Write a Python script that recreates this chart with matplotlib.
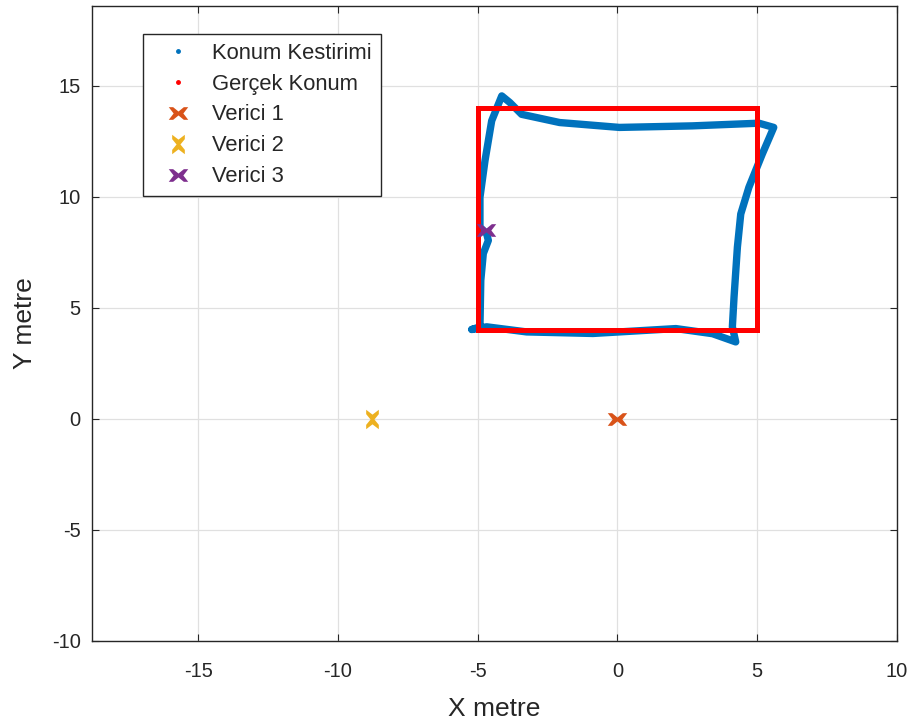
import matplotlib
matplotlib.use("Agg")
import matplotlib.pyplot as plt
from matplotlib.lines import Line2D
from matplotlib.path import Path

plt.rcParams['font.family'] = ['Liberation Sans', 'DejaVu Sans']
plt.rcParams['axes.unicode_minus'] = False

# estimated trajectory (Konum Kestirimi), waypoints
est_x = [-5.21, -4.92, -4.89, -4.80, -4.62, -4.68, -4.92, -4.92, -4.74, -4.50, -4.14,
         -3.85, -3.43, -2.07, 0.07, 2.68, 5.06, 5.59, 5.18, 4.70, 4.41, 4.29, 4.17,
         4.11, 4.23, 3.40, 2.09, -0.88, -3.25, -4.68, -5.21]
est_y = [4.03, 4.15, 6.24, 7.45, 8.04, 8.34, 8.64, 9.98, 11.63, 13.43, 14.55,
         14.25, 13.72, 13.35, 13.13, 13.20, 13.32, 13.13, 11.93, 10.43, 9.23, 7.74, 5.49,
         4.15, 3.47, 3.84, 4.07, 3.85, 3.92, 4.15, 4.03]

# true path (Gerçek Konum)
true_x = [-5, 5, 5, -5, -5]
true_y = [4, 4, 14, 14, 4]

# transmitters
tx_names = ['Verici 1', 'Verici 2', 'Verici 3']
tx_x = [0.0, -8.8, -4.7]
tx_y = [0.0, 0.0, 8.5]
tx_colors = ['#D95319', '#EDB120', '#7E2F8E']

blue = '#0072BD'
red = '#FF0000'

# thick "x" shaped marker
h = [(-1, 0.65), (-0.55, 0.65), (0, 0.2), (0.55, 0.65), (1, 0.65), (0.5, 0),
     (1, -0.65), (0.55, -0.65), (0, -0.2), (-0.55, -0.65), (-1, -0.65), (-0.5, 0), (-1, 0.65)]
bow_h = Path(h, closed=True)
bow_v = Path([(y, x) for x, y in h], closed=True)
tx_markers = [bow_h, bow_v, bow_h]

fig = plt.figure(figsize=(9.17, 7.27), dpi=100)
ax = fig.add_axes([0.1003, 0.1183, 0.8779, 0.8735])

ax.plot(est_x, est_y, color=blue, lw=5.3, solid_capstyle='round', solid_joinstyle='round', zorder=2)
ax.plot(true_x, true_y, color=red, lw=3.6, solid_joinstyle='miter', zorder=3)
for n, x, y, c, m in zip(tx_names, tx_x, tx_y, tx_colors, tx_markers):
    ax.plot([x], [y], ls='none', marker=m, ms=14, color=c, mec=c, mew=0, zorder=4)

ax.set_xlim(-18.8, 10)
ax.set_ylim(-10, 18.6)
ax.set_xticks([-15, -10, -5, 0, 5, 10])
ax.set_yticks([-10, -5, 0, 5, 10, 15])
ax.grid(True, color='#e0e0e0', lw=0.9)
ax.set_axisbelow(True)
ax.tick_params(direction='in', length=5, top=True, right=True, labelsize=14.5,
               colors='#262626')
ax.tick_params(axis='x', pad=15)
ax.tick_params(axis='y', pad=8)
for s in ax.spines.values():
    s.set_color('#262626')
    s.set_linewidth(1.0)
ax.set_xlabel('X metre', fontsize=19, color='#262626', labelpad=12)
ax.set_ylabel('Y metre', fontsize=19, color='#262626', labelpad=11)

handles = [
    Line2D([], [], ls='none', marker='.', ms=5, color=blue),
    Line2D([], [], ls='none', marker='.', ms=5, color=red),
]
for c, m in zip(tx_colors, tx_markers):
    handles.append(Line2D([], [], ls='none', marker=m, ms=14, color=c, mew=0))
labels = ['Konum Kestirimi', 'Gerçek Konum'] + tx_names
leg = ax.legend(handles, labels, loc='upper left', bbox_to_anchor=(0.0634, 0.9559),
                borderaxespad=0, fontsize=15.8, frameon=True, fancybox=False,
                edgecolor='#262626', framealpha=1, labelspacing=0.45,
                handlelength=2.36, handletextpad=0.4, borderpad=0.4,
                labelcolor='#262626')
leg.get_frame().set_linewidth(1.0)

fig.savefig('out.png', dpi=100)
